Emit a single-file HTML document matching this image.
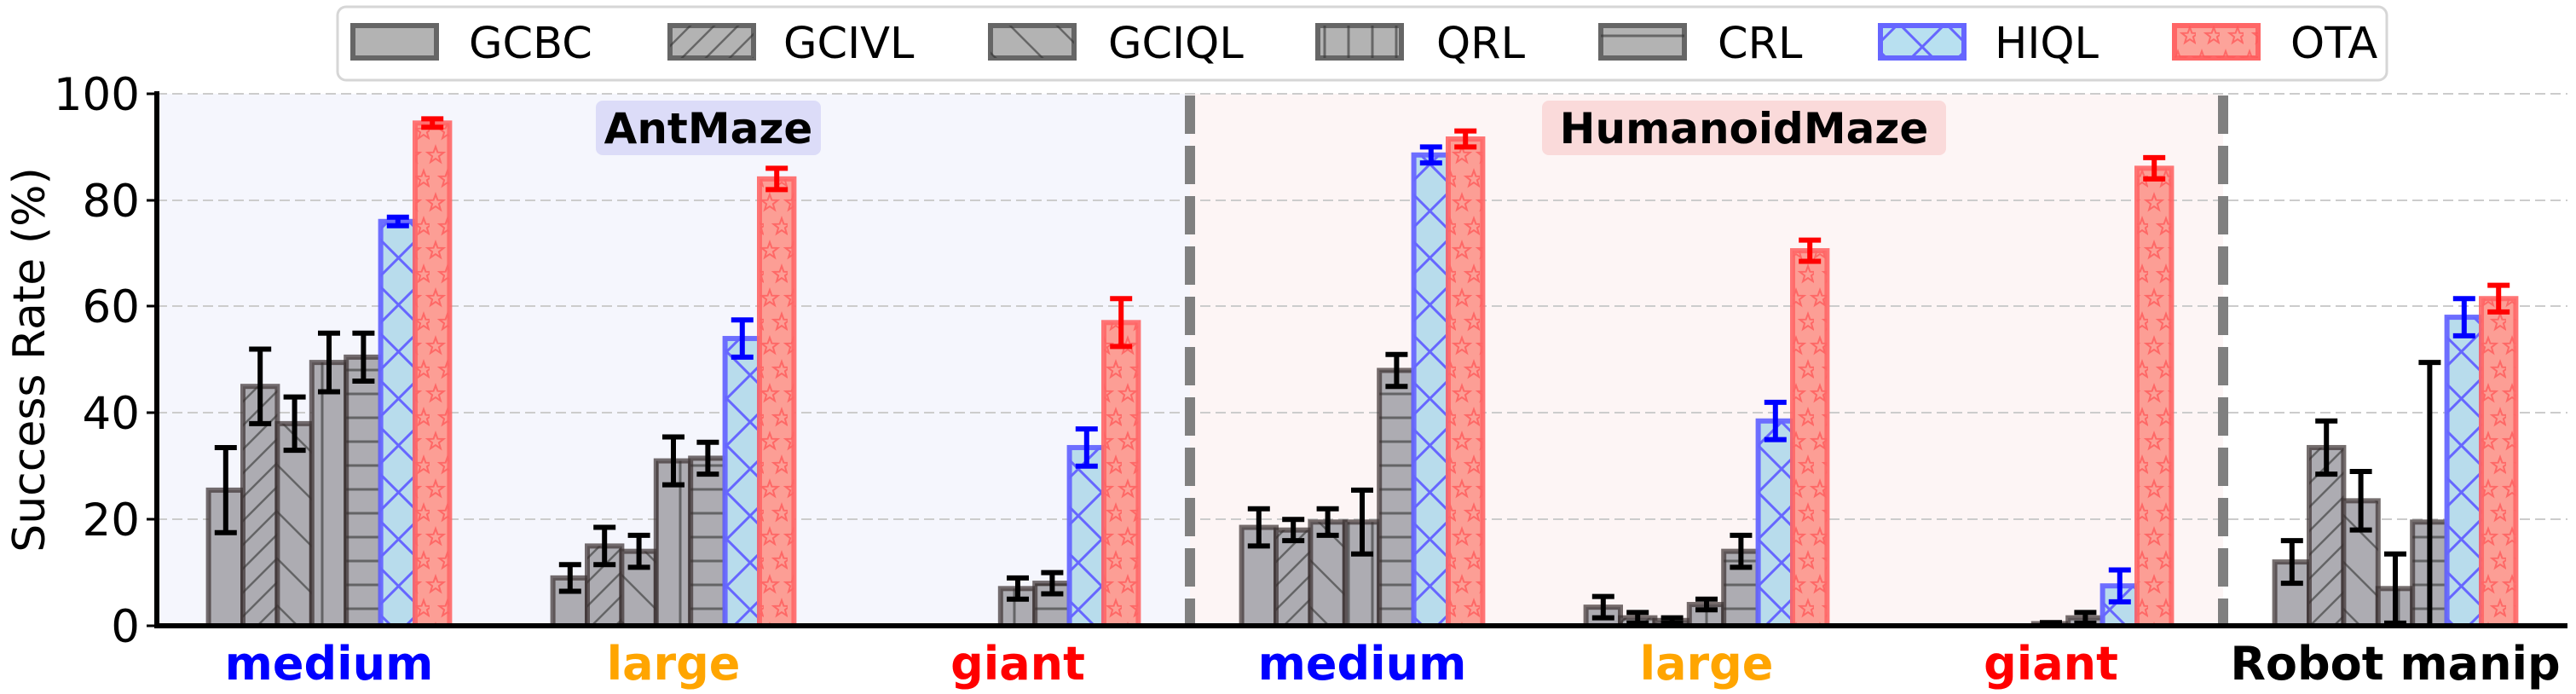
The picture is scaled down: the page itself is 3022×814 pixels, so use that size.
<!DOCTYPE html>
<html><head><meta charset="utf-8"><style>
html,body{margin:0;padding:0;background:#fff;}
svg{display:block;font-family:"DejaVu Sans","Liberation Sans",sans-serif;}
</style></head><body>
<svg id="s" width="3022" height="814" viewBox="0 0 3022 814" xmlns="http://www.w3.org/2000/svg">
<defs>
<pattern id="pd" patternUnits="userSpaceOnUse" width="28" height="28"><path d="M0,28 L28,0 M-7,7 L7,-7 M21,35 L35,21" stroke="#333" stroke-opacity="0.6" stroke-width="2.5"/></pattern>
<pattern id="pb" patternUnits="userSpaceOnUse" width="55" height="55"><path d="M0,0 L55,55 M-14,41 L14,69 M41,-14 L69,14" stroke="#333" stroke-opacity="0.6" stroke-width="2.5"/></pattern>
<pattern id="pv" patternUnits="userSpaceOnUse" width="28" height="28"><path d="M14,0 L14,28" stroke="#333" stroke-opacity="0.6" stroke-width="3"/></pattern>
<pattern id="ph" patternUnits="userSpaceOnUse" width="28" height="28"><path d="M0,14 L28,14" stroke="#333" stroke-opacity="0.6" stroke-width="3"/></pattern>
<pattern id="px" patternUnits="userSpaceOnUse" width="55" height="55"><path d="M0,0 L55,55 M0,55 L55,0" stroke="#6666ff" stroke-width="3"/></pattern>
<pattern id="ps" patternUnits="userSpaceOnUse" width="28" height="56">
<g fill="none" stroke="#ff5a5a" stroke-opacity="0.8" stroke-width="2">
<polygon points="7,4 9.4,10.7 16.5,10.9 10.9,15.3 12.9,22.1 7,18.1 1.1,22.1 3.1,15.3 -2.5,10.9 4.6,10.7"/>
<polygon points="7,4 9.4,10.7 16.5,10.9 10.9,15.3 12.9,22.1 7,18.1 1.1,22.1 3.1,15.3 -2.5,10.9 4.6,10.7" transform="translate(28,0)"/>
<polygon points="7,4 9.4,10.7 16.5,10.9 10.9,15.3 12.9,22.1 7,18.1 1.1,22.1 3.1,15.3 -2.5,10.9 4.6,10.7" transform="translate(14,28)"/>
</g></pattern>
</defs>
<rect x="184" y="110" width="1212" height="624" fill="#f5f6fd"/>
<rect x="1396" y="110" width="1212" height="624" fill="#fdf5f5"/>
<g stroke="#cccccc" stroke-width="2" stroke-dasharray="12,6">
<line x1="184" x2="3012" y1="110" y2="110"/>
<line x1="184" x2="3012" y1="235" y2="235"/>
<line x1="184" x2="3012" y1="359" y2="359"/>
<line x1="184" x2="3012" y1="484" y2="484"/>
<line x1="184" x2="3012" y1="609" y2="609"/>
</g>
<rect x="699" y="118" width="264" height="64" rx="8" fill="#dcdcf8"/>
<text x="831" y="168" text-anchor="middle" font-weight="bold" font-size="50" fill="#000">AntMaze</text>
<rect x="1809" y="118" width="474" height="64" rx="8" fill="#fadada"/>
<text x="2046" y="168" text-anchor="middle" font-weight="bold" font-size="50" fill="#000">HumanoidMaze</text>
<g id="bars"></g>
<g stroke="#808080" stroke-width="12" stroke-dasharray="45,14">
<line x1="1396" x2="1396" y1="112" y2="734"/>
<line x1="2608" x2="2608" y1="112" y2="734"/>
</g>
<line x1="184" y1="107" x2="184" y2="737" stroke="#000" stroke-width="6"/>
<line x1="181" y1="734" x2="3012" y2="734" stroke="#000" stroke-width="6"/>
<g stroke="#000" stroke-width="3">
<line x1="172" x2="184" y1="110" y2="110"/><line x1="172" x2="184" y1="235" y2="235"/><line x1="172" x2="184" y1="359" y2="359"/><line x1="172" x2="184" y1="484" y2="484"/><line x1="172" x2="184" y1="609" y2="609"/><line x1="172" x2="184" y1="734" y2="734"/>
</g>
<g font-size="53" text-anchor="end" fill="#000">
<text x="164" y="129">100</text><text x="164" y="254">80</text><text x="164" y="378">60</text><text x="164" y="503">40</text><text x="164" y="628">20</text><text x="164" y="753">0</text>
</g>
<text transform="translate(52,422) rotate(-90)" text-anchor="middle" font-size="52" fill="#000">Success Rate (%)</text>
<g font-size="54" font-weight="bold" text-anchor="middle">
<text x="386" y="797" fill="#0000ff">medium</text>
<text x="790" y="797" fill="#ffa500">large</text>
<text x="1194" y="797" fill="#ff0000">giant</text>
<text x="1598" y="797" fill="#0000ff">medium</text>
<text x="2002" y="797" fill="#ffa500">large</text>
<text x="2406" y="797" fill="#ff0000">giant</text>
<text x="2810" y="797" fill="#000">Robot manip</text>
</g>
<rect x="396" y="8" width="2404" height="86" rx="10" fill="#fff" stroke="#d6d6d6" stroke-width="3"/>
<g stroke-width="6">
<rect x="414" y="30" width="98" height="38" fill="#b3b3b3" stroke="#666"/>
<rect x="786" y="30" width="98" height="38" fill="#b3b3b3" stroke="#666"/><rect x="786" y="30" width="98" height="38" fill="url(#pd)"/>
<rect x="1162" y="30" width="98" height="38" fill="#b3b3b3" stroke="#666"/><rect x="1162" y="30" width="98" height="38" fill="url(#pb)"/>
<rect x="1546" y="30" width="98" height="38" fill="#b3b3b3" stroke="#666"/><rect x="1546" y="30" width="98" height="38" fill="url(#pv)"/>
<rect x="1878" y="30" width="98" height="38" fill="#b3b3b3" stroke="#666"/><rect x="1878" y="30" width="98" height="38" fill="url(#ph)"/>
<rect x="2206" y="30" width="98" height="38" fill="#b8e0f0" stroke="#6666ff"/><rect x="2206" y="30" width="98" height="38" fill="url(#px)"/>
<rect x="2551" y="30" width="98" height="38" fill="#fca39a" stroke="#ff6666"/><rect x="2551" y="30" width="98" height="38" fill="url(#ps)"/>
</g>
<g font-size="51" fill="#000">
<text x="550" y="68">GCBC</text>
<text x="919" y="68">GCIVL</text>
<text x="1300" y="68">GCIQL</text>
<text x="1685" y="68">QRL</text>
<text x="2015" y="68">CRL</text>
<text x="2340" y="68">HIQL</text>
<text x="2687" y="68">OTA</text>
</g>
</svg>
<script>
var D=[
[[25.5,8],[45,7],[38,5],[49.5,5.5],[50.5,4.5],[76,0.8],[94.5,0.8]],
[[9,2.5],[15,3.5],[14,3],[31,4.5],[31.5,3],[54,3.5],[84,2]],
[[0,0],[0,0],[0,0],[7,2],[8,2],[33.5,3.5],[57,4.5]],
[[18.5,3.5],[18,2],[19.5,2.5],[19.5,6],[48,3],[88.5,1.5],[91.5,1.5]],
[[3.5,2],[1.5,1],[1,0.5],[4,1],[14,3],[38.5,3.5],[70.5,2]],
[[0,0],[0,0],[0,0],[0.4,0.2],[1.5,1],[7.5,3],[86,2]],
[[12,4],[33.5,5],[23.5,5.5],[7,6.5],[19.5,30],[58,3.5],[61.5,2.5]]];
var pat=[null,'pd','pb','pv','ph','px','ps'];
function Y(v){return 734-v*6.24;}
var ns='http://www.w3.org/2000/svg',g=document.getElementById('bars');
function el(t,a){var e=document.createElementNS(ns,t);for(var k in a)e.setAttribute(k,a[k]);g.appendChild(e);return e;}
var W=40.4,errs=[];
for(var j=0;j<7;j++){for(var i=0;i<7;i++){
 var C=386+404*i, x=C-141.4+W*j, v=D[i][j][0], e=D[i][j][1];
 if(i==2&&j<3) continue;
 var y=Y(v),h=734-y;
 var fill=j==5?'#b8dcec':(j==6?'#fc9e95':'#adacb2');
 el('rect',{x:x,y:y,width:W,height:h,fill:fill});
 if(pat[j]) el('rect',{x:x,y:y,width:W,height:h,fill:'url(#'+pat[j]+')'});
 var sc=j==5?'#6666ff':(j==6?'#ff6666':'#3a3030');
 var so=j==5?0.95:(j==6?0.9:0.7);
 el('rect',{x:x,y:y,width:W,height:h,fill:'none',stroke:sc,'stroke-opacity':so,'stroke-width':6});
 errs.push([x+W/2,v,e,j]);
}}
errs.forEach(function(a){
 if(a[2]<=0)return;
 var c=a[3]==5?'#0000ff':(a[3]==6?'#ff0000':'#000');
 var lo=Math.max(0,a[1]-a[2]),hi=a[1]+a[2];
 el('line',{x1:a[0],x2:a[0],y1:Y(lo),y2:Y(hi),stroke:c,'stroke-width':6});
 el('line',{x1:a[0]-13,x2:a[0]+13,y1:Y(hi),y2:Y(hi),stroke:c,'stroke-width':6});
 if(a[1]-a[2]>=0) el('line',{x1:a[0]-13,x2:a[0]+13,y1:Y(lo),y2:Y(lo),stroke:c,'stroke-width':6});
});
</script>
</body></html>
